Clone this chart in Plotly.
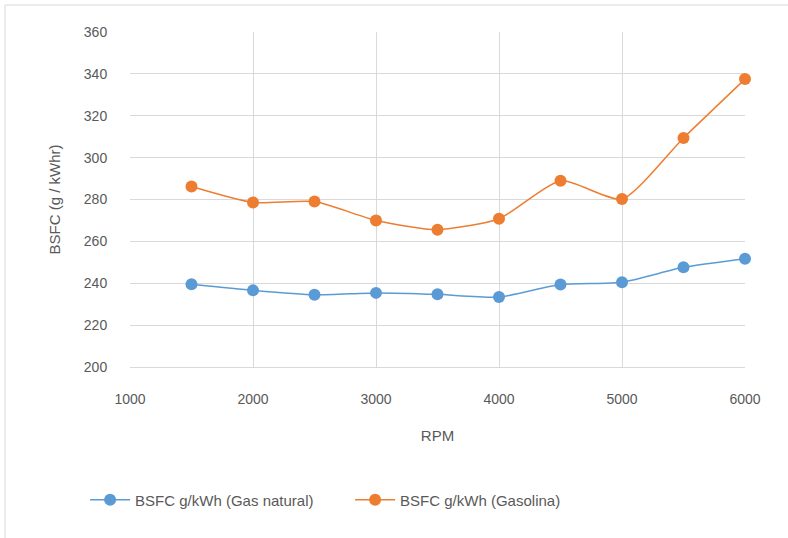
import plotly.graph_objects as go

rpm = [1500, 2000, 2500, 3000, 3500, 4000, 4500, 5000, 5500, 6000]
gas_natural = [239.5, 236.6, 234.5, 235.4, 234.7, 233.4, 239.4, 240.5, 247.6, 251.7]
gasolina = [286.2, 278.6, 279.0, 270.0, 265.6, 270.8, 289.0, 280.2, 309.4, 337.5]
x_ticks = [1000, 2000, 3000, 4000, 5000, 6000]
y_ticks = [200, 220, 240, 260, 280, 300, 320, 340, 360]

name_gas = "BSFC g/kWh (Gas natural)"
name_gasolina = "BSFC g/kWh (Gasolina)"

FONT = "Liberation Sans, Arial, sans-serif"
TXT = "#595959"
GRID = "#d9d9d9"

fig = go.Figure()
fig.add_trace(go.Scatter(
    x=rpm, y=gas_natural, name=name_gas, mode="lines+markers", cliponaxis=False,
    line=dict(color="#5B9BD5", width=1.5, shape="spline", smoothing=0.6),
    marker=dict(color="#5B9BD5", size=12),
))
fig.add_trace(go.Scatter(
    x=rpm, y=gasolina, name=name_gasolina, mode="lines+markers", cliponaxis=False,
    line=dict(color="#ED7D31", width=1.5, shape="spline", smoothing=0.6),
    marker=dict(color="#ED7D31", size=12),
))

fig.update_layout(
    width=788, height=538,
    margin=dict(l=130, r=43, t=32, b=171, autoexpand=False),
    paper_bgcolor="white", plot_bgcolor="white",
    font=dict(family=FONT, size=15, color=TXT),
    showlegend=True,
    legend=dict(orientation="h", x=-0.073, xanchor="left", y=-0.397, yanchor="middle",
                font=dict(size=15, color=TXT), itemwidth=40, entrywidth=210,
                traceorder="normal"),
    shapes=[dict(type="rect", xref="paper", yref="paper",
                 x0=-0.2033, x1=1.09, y0=-0.55, y1=1.0806,
                 line=dict(color=GRID, width=1), layer="below")],
)
fig.update_xaxes(
    range=[1000, 6000], tickvals=x_ticks, ticktext=[str(v) for v in x_ticks],
    showgrid=True, gridcolor=GRID, gridwidth=1, zeroline=False,
    showline=True, linecolor=GRID, mirror=False, automargin=False,
    ticks="outside", ticklen=19, tickcolor="rgba(0,0,0,0)",
    tickfont=dict(size=14, color=TXT),
    title=dict(text="RPM", standoff=24, font=dict(size=15, color=TXT)),
)
fig.update_yaxes(
    range=[200, 360], tickvals=y_ticks, ticktext=[str(v) for v in y_ticks],
    showgrid=True, gridcolor=GRID, gridwidth=1, zeroline=False,
    showline=False, automargin=False,
    ticks="outside", ticklen=19, tickcolor="rgba(0,0,0,0)",
    tickfont=dict(size=14, color=TXT),
    title=dict(text="BSFC (g / kWhr)", standoff=19, font=dict(size=15, color=TXT)),
)

fig.write_html("out.html", config={"displayModeBar": False},
               post_script="document.body.style.margin='0';")
